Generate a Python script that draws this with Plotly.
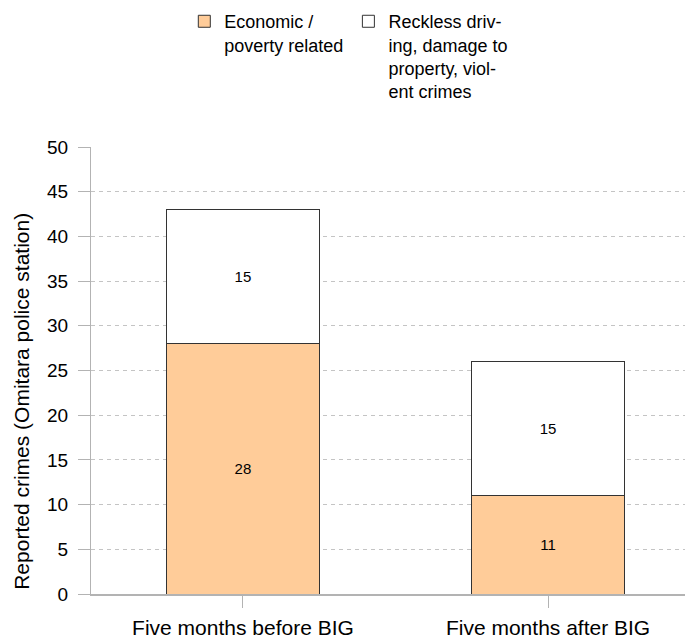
import plotly.graph_objects as go

categories = ["Five months before BIG", "Five months after BIG"]
economic = [28, 11]
reckless = [15, 15]
series_names = ["Economic /<br>poverty related",
                "Reckless driv-<br>ing, damage to<br>property, viol-<br>ent crimes"]
y_ticks = [0, 5, 10, 15, 20, 25, 30, 35, 40, 45, 50]
y_title = "Reported crimes (Omitara police station)"

FONT = "Liberation Sans, Arial, sans-serif"

fig = go.Figure()
fig.add_trace(go.Bar(
    x=categories, y=economic, name=series_names[0],
    marker=dict(color="#ffcc99", line=dict(color="#333333", width=1)),
    text=[str(v) for v in economic], textposition="inside",
    insidetextanchor="middle", textfont=dict(size=15, color="#000000", family=FONT),
    width=0.5,
))
fig.add_trace(go.Bar(
    x=categories, y=reckless, name=series_names[1],
    marker=dict(color="#ffffff", line=dict(color="#333333", width=1)),
    text=[str(v) for v in reckless], textposition="inside",
    insidetextanchor="middle", textfont=dict(size=15, color="#000000", family=FONT),
    width=0.5,
))

fig.add_annotation(
    text=y_title, textangle=-90, showarrow=False,
    xref="paper", yref="paper", x=-0.1146, y=0.43,
    xanchor="center", yanchor="middle",
    font=dict(size=21, family=FONT, color="#000000"),
)

fig.update_layout(
    width=685, height=631,
    barmode="stack",
    plot_bgcolor="#ffffff", paper_bgcolor="#ffffff",
    font=dict(family=FONT, color="#000000", size=18),
    margin=dict(l=83, r=0, t=139, b=45, autoexpand=False),
    legend=dict(
        orientation="h", x=0.155, xanchor="left", y=1.322, yanchor="top",
        traceorder="normal", valign="top",
        font=dict(size=18, family=FONT), bgcolor="rgba(0,0,0,0)",
    ),
    xaxis=dict(
        range=[-0.498, 1.475], showgrid=False,
        showline=True, linecolor="#b3b3b3", linewidth=2,
        ticks="outside", ticklen=12, tickcolor="#b3b3b3",
        tickfont=dict(size=21, family=FONT), ticklabelstandoff=2,
        fixedrange=True,
    ),
    yaxis=dict(
        range=[0, 50], tickvals=y_ticks,
        showgrid=True, gridcolor="#c4c4c4", griddash="4px,4px", gridwidth=1,
        zeroline=False,
        showline=True, linecolor="#b3b3b3", linewidth=1,
        ticks="outside", ticklen=12, tickcolor="#b3b3b3",
        tickfont=dict(size=19, family=FONT), ticklabelstandoff=6,
    ),
)

fig.write_html("out.html")
